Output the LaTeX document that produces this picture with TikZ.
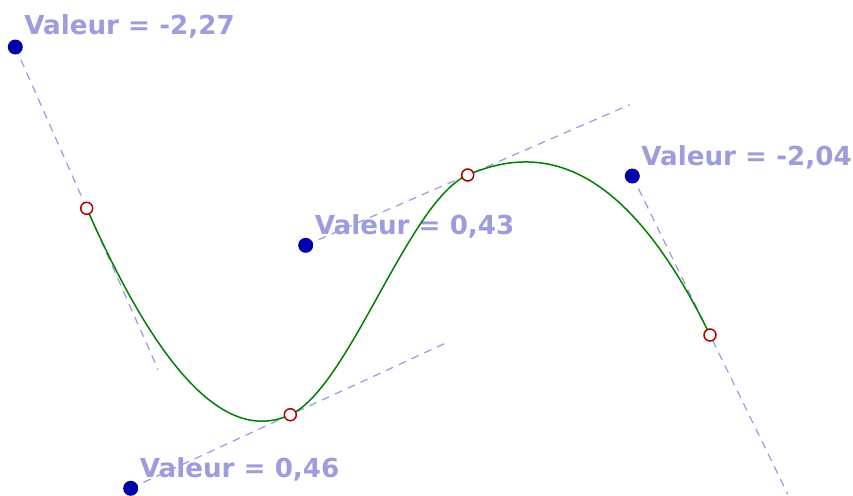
\documentclass[tikz,border=0pt]{standalone}
\usepackage{fontspec}
\setmainfont{DejaVu Sans}
\usepackage{tikz}
\usetikzlibrary{calc}
\definecolor{handleblue}{HTML}{0000A8}
\definecolor{knotred}{HTML}{B00000}
\definecolor{splinegreen}{HTML}{007F00}
\definecolor{tangentlilac}{HTML}{9C9CDE}

\begin{document}
\begin{tikzpicture}[
    x=0.02cm, y=-0.02cm,
    every node/.style={font=\fontsize{14.9pt}{18pt}\selectfont\bfseries},
    handle/.style={circle, fill=handleblue, minimum size=0.3cm, inner sep=0pt},
    knot/.style={circle, draw=knotred, fill=white, line width=0.85pt, minimum size=0.24cm, inner sep=0pt},
    tangent/.style={draw=tangentlilac, line width=0.7pt, dash pattern=on 4.5pt off 3.5pt},
    spline/.style={draw=splinegreen, line width=0.85pt},
    value/.style={text=tangentlilac, anchor=base west, inner sep=0pt}
]
    \useasboundingbox (0,0) rectangle (853,495);

    % points of the curve and the handles that fix their slopes
    \coordinate (p1) at (86.7,208.3);
    \coordinate (p2) at (290.3,414.7);
    \coordinate (p3) at (467.7,175);
    \coordinate (p4) at (710,335);
    \coordinate (h1) at (15.3,47);
    \coordinate (h2) at (130.7,488.3);
    \coordinate (h3) at (305.7,245.3);
    \coordinate (h4) at (632.3,176);
    \coordinate (e1) at ($(p1)!-1!(h1)$);
    \coordinate (e2) at ($(p2)!-1!(h2)$);
    \coordinate (e3) at ($(p3)!-1!(h3)$);
    \coordinate (e4) at ($(p4)!-1!(h4)$);

    \node[value] (v1) at (24,34.5) {Valeur = -2,27};
    \node[value] (v2) at (139.5,477.3) {Valeur = 0,46};
    \node[value] (v3) at (314.5,234) {Valeur = 0,43};
    \node[value] (v4) at (641,165) {Valeur = -2,04};

    \draw[tangent] (h1) -- (e1);
    \draw[tangent] (h2) -- (e2);
    \draw[tangent] (h3) -- (e3);
    \draw[tangent] (h4) -- (e4);

    \draw[spline] (p1)
        .. controls ($(p1)!0.9505!(e1)$) and ($(p2)!0.4252!(h2)$) .. (p2)
        .. controls ($(p2)!0.3705!(e2)$) and ($(p3)!0.365!(h3)$) .. (p3)
        .. controls ($(p3)!0.4986!(e3)$) and ($(p4)!1.0395!(h4)$) .. (p4);

    \foreach \i in {1,...,4} {
        \node[handle] (hd\i) at (h\i) {};
        \node[knot] (kn\i) at (p\i) {};
    }
\end{tikzpicture}
\end{document}
